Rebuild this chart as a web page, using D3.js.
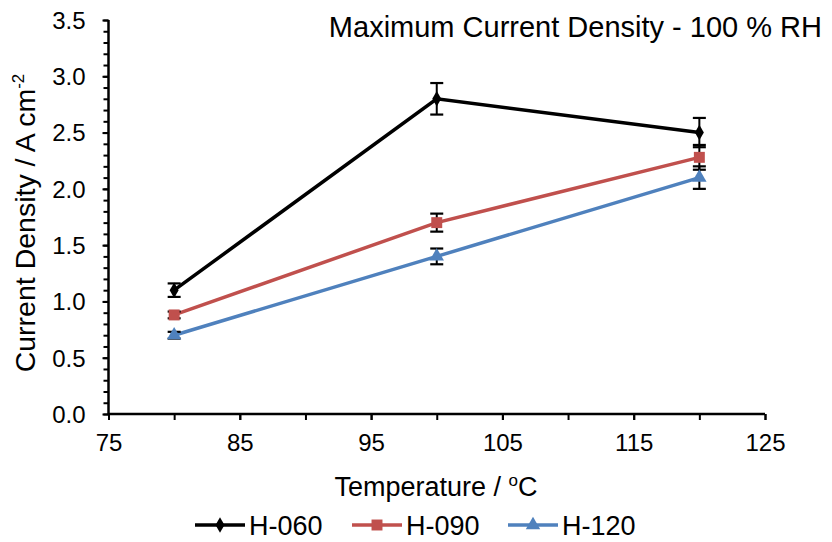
<!DOCTYPE html>
<html>
<head>
<meta charset="utf-8">
<script src="https://cdn.jsdelivr.net/npm/d3@7"></script>
<style>
  html, body { margin: 0; padding: 0; background: #fff; }
  svg { display: block; font-family: "Liberation Sans", Arial, sans-serif; }
</style>
</head>
<body>
<svg id="chart" width="832" height="542"></svg>
<script>
// Temperatures (°C) at which maximum current density was measured
const temperatures = [80, 100, 120];

// Maximum current density (A cm^-2) for each membrane
const h060 = [1.10, 2.80, 2.50];
const h090 = [0.88, 1.70, 2.28];
const h120 = [0.70, 1.40, 2.10];

// Error bar half-widths (A cm^-2)
const h060Err = [0.06, 0.14, 0.13];
const h090Err = [0.03, 0.08, 0.11];
const h120Err = [0.03, 0.07, 0.10];

const seriesNames = ["H-060", "H-090", "H-120"];
const seriesColors = ["#000000", "#C0504D", "#4F81BD"];
const seriesShapes = [d3.symbolDiamond, d3.symbolSquare, d3.symbolTriangle];
const seriesSizes = [70, 120, 90];

const xTicks = [75, 85, 95, 105, 115, 125];
const yTicks = [0, 0.5, 1, 1.5, 2, 2.5, 3, 3.5];

const series = [
  { name: seriesNames[0], values: h060, err: h060Err },
  { name: seriesNames[1], values: h090, err: h090Err },
  { name: seriesNames[2], values: h120, err: h120Err }
].map((s, i) => ({ ...s, color: seriesColors[i], shape: seriesShapes[i], size: seriesSizes[i] }));

const svg = d3.select("#chart");
const margin = { left: 108.5, right: 67, top: 20, bottom: 128 };
const W = 832, H = 542;

const x = d3.scaleLinear().domain([75, 125]).range([margin.left, W - margin.right]);
const y = d3.scaleLinear().domain([0, 3.5]).range([H - margin.bottom, margin.top]);

// Y axis: minor ticks every 0.1, labelled ticks every 0.5
const yMinor = d3.range(0, 3.5001, 0.1);
svg.append("g")
  .attr("transform", `translate(${margin.left},0)`)
  .call(d3.axisLeft(y).tickValues(yMinor).tickSize(5).tickFormat(""))
  .call(g => g.selectAll("line").attr("stroke", "#000").attr("stroke-width", 2))
  .call(g => g.select(".domain").remove());
const yAxis = svg.append("g")
  .attr("transform", `translate(${margin.left},0)`)
  .call(d3.axisLeft(y).tickValues(yTicks).tickSize(6).tickPadding(17).tickFormat(d3.format(".1f")));
yAxis.select(".domain").attr("stroke", "#000").attr("stroke-width", 2.5).attr("d", `M0,${y(3.5)}V${y(0)}`);
yAxis.selectAll("line").attr("stroke", "#000").attr("stroke-width", 2);
yAxis.selectAll("text").attr("font-size", 24).attr("fill", "#000").attr("dy", "0.35em");

// X axis: ticks every 5, labels every 10 starting at 75
const xMinor = d3.range(75, 125.001, 5);
svg.append("g")
  .attr("transform", `translate(0,${y(0)})`)
  .call(d3.axisBottom(x).tickValues(xMinor).tickSize(6).tickFormat(""))
  .call(g => g.selectAll("line").attr("stroke", "#000").attr("stroke-width", 2))
  .call(g => g.select(".domain").remove());
const xAxis = svg.append("g")
  .attr("transform", `translate(0,${y(0)})`)
  .call(d3.axisBottom(x).tickValues(xTicks).tickSize(6).tickPadding(14).tickFormat(d3.format("d")));
xAxis.select(".domain").attr("stroke", "#000").attr("stroke-width", 2.5).attr("d", `M${x(75)},0H${x(125)}`);
xAxis.selectAll("line").attr("stroke", "#000").attr("stroke-width", 2);
xAxis.selectAll("text").attr("font-size", 24).attr("fill", "#000").attr("dy", "0.7em");

// Series lines
const line = d3.line().x((d, i) => x(temperatures[i])).y(d => y(d));
series.forEach(s => {
  svg.append("path")
    .datum(s.values)
    .attr("fill", "none")
    .attr("stroke", s.color)
    .attr("stroke-width", 3.5)
    .attr("d", line);
});

// Error bars
const cap = 6.5;
series.forEach(s => {
  const g = svg.append("g");
  s.values.forEach((v, i) => {
    const cx = x(temperatures[i]);
    const y1 = y(v + s.err[i]), y2 = y(v - s.err[i]);
    g.append("line").attr("x1", cx).attr("x2", cx).attr("y1", y1).attr("y2", y2)
      .attr("stroke", "#000").attr("stroke-width", 2);
    [y1, y2].forEach(yy => g.append("line")
      .attr("x1", cx - cap).attr("x2", cx + cap).attr("y1", yy).attr("y2", yy)
      .attr("stroke", "#000").attr("stroke-width", 2.2));
  });
});

// Markers
series.forEach(s => {
  svg.append("g").selectAll("path")
    .data(s.values)
    .join("path")
    .attr("transform", (d, i) => `translate(${x(temperatures[i])},${y(d)})`)
    .attr("d", d3.symbol().type(s.shape).size(s.size))
    .attr("fill", s.color);
});

// Title
svg.append("text")
  .attr("x", 822).attr("y", 37)
  .attr("text-anchor", "end")
  .attr("font-size", 29)
  .attr("fill", "#000")
  .text("Maximum Current Density - 100 % RH");

// Axis titles
const xt = svg.append("text")
  .attr("x", 436).attr("y", 496)
  .attr("text-anchor", "middle")
  .attr("font-size", 27)
  .attr("fill", "#000");
xt.append("tspan").text("Temperature / ");
xt.append("tspan").attr("font-size", 17).attr("dy", -10).text("o");
xt.append("tspan").attr("dy", 10).text("C");

const yt = svg.append("text")
  .attr("transform", `translate(35,${(y(0) + y(3.5)) / 2 + 6}) rotate(-90)`)
  .attr("text-anchor", "middle")
  .attr("font-size", 28.5)
  .attr("fill", "#000");
yt.append("tspan").text("Current Density / A cm");
yt.append("tspan").attr("font-size", 17).attr("dy", -11).text("-2");

// Legend
const legendX = [195, 352, 508];
const legend = svg.append("g");
series.forEach((s, i) => {
  const lx = legendX[i], ly = 525;
  legend.append("line").attr("x1", lx).attr("x2", lx + 50).attr("y1", ly).attr("y2", ly)
    .attr("stroke", s.color).attr("stroke-width", 3.5);
  legend.append("path")
    .attr("transform", `translate(${lx + 25},${ly})`)
    .attr("d", d3.symbol().type(s.shape).size(s.size))
    .attr("fill", s.color);
  legend.append("text")
    .attr("x", lx + 54).attr("y", ly).attr("dy", "0.36em")
    .attr("font-size", 27)
    .attr("fill", "#000")
    .text(s.name);
});
</script>
</body>
</html>
